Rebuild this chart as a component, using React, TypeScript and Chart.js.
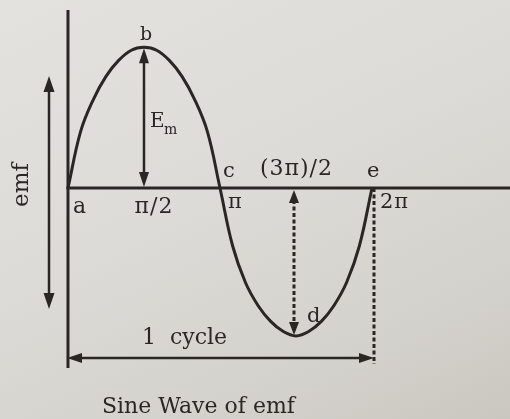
import React, { useEffect, useRef } from "react";
import { Chart, registerables } from "chart.js";

Chart.register(...registerables);

// Phase angle in degrees (0..360 is one full cycle) and the emf at that angle, as a fraction of Em
const phaseDeg = [0, 15, 30, 45, 60, 75, 90, 105, 120, 135, 150, 165, 180, 195, 210, 225, 240, 255, 270, 285, 300, 315, 330, 345, 360];
const emfValues = [0, 0.39, 0.61, 0.77, 0.88, 0.95, 0.97, 0.95, 0.88, 0.77, 0.61, 0.39, 0, -0.4, -0.65, -0.81, -0.92, -0.99, -1.02, -0.99, -0.92, -0.81, -0.65, -0.4, 0];

// Named points on the wave: a (start), b (positive peak), c (zero), d (negative peak), e (end)
const peakPhase = 90;
const zeroPhase = 180;
const troughPhase = 270;
const cyclePhase = 360;

// Tick labels written along the time axis
const tickLabels = ["π/2", "π", "(3π)/2", "2π"];

const INK = "#2b2626";
const SERIF = '"DejaVu Serif", "Liberation Serif", serif';

const valueAt = (deg: number) => emfValues[phaseDeg.indexOf(deg)];

function head(ctx: CanvasRenderingContext2D, x: number, y: number, dir: "up" | "down" | "left" | "right", len: number, half: number) {
  ctx.beginPath();
  if (dir === "up") {
    ctx.moveTo(x, y);
    ctx.lineTo(x - half, y + len);
    ctx.lineTo(x + half, y + len);
  } else if (dir === "down") {
    ctx.moveTo(x, y);
    ctx.lineTo(x - half, y - len);
    ctx.lineTo(x + half, y - len);
  } else if (dir === "left") {
    ctx.moveTo(x, y);
    ctx.lineTo(x + len, y - half);
    ctx.lineTo(x + len, y + half);
  } else {
    ctx.moveTo(x, y);
    ctx.lineTo(x - len, y - half);
    ctx.lineTo(x - len, y + half);
  }
  ctx.closePath();
  ctx.fill();
}

function seg(ctx: CanvasRenderingContext2D, x1: number, y1: number, x2: number, y2: number, width: number, dash: number[] = []) {
  ctx.save();
  ctx.lineWidth = width;
  ctx.setLineDash(dash);
  ctx.beginPath();
  ctx.moveTo(x1, y1);
  ctx.lineTo(x2, y2);
  ctx.stroke();
  ctx.restore();
}

function text(ctx: CanvasRenderingContext2D, s: string, x: number, y: number, size: number, align: CanvasTextAlign = "left") {
  ctx.font = `${size}px ${SERIF}`;
  ctx.textAlign = align;
  ctx.textBaseline = "alphabetic";
  ctx.fillText(s, x, y);
}

// Axes, arrows and lettering of the sine-wave diagram
const diagramPlugin = {
  id: "sineDiagram",
  afterDatasetsDraw(chart: Chart) {
    const { ctx } = chart;
    const xs = chart.scales.x;
    const ys = chart.scales.y;
    const px = (v: number) => xs.getPixelForValue(v);
    const py = (v: number) => ys.getPixelForValue(v);

    const x0 = px(0);
    const y0 = py(0);
    const xb = px(peakPhase);
    const yb = py(valueAt(peakPhase));
    const xc = px(zeroPhase);
    const xd = px(troughPhase);
    const yd = py(valueAt(troughPhase));
    const xe = px(cyclePhase);

    ctx.save();
    ctx.strokeStyle = INK;
    ctx.fillStyle = INK;
    ctx.lineCap = "butt";

    // axes
    seg(ctx, x0, 10, x0, 368, 3);
    seg(ctx, x0 - 1.5, y0, chart.width, y0, 3);

    // Em: from the axis up to the peak b
    seg(ctx, xb, yb + 8, xb, y0 - 8, 2.5);
    head(ctx, xb, yb + 1, "up", 15, 5);
    head(ctx, xb, y0 - 1, "down", 15, 5);

    // dotted arrow from the axis down to d
    seg(ctx, xd - 2, y0 + 12, xd - 2, yd - 12, 3, [4, 2.5]);
    head(ctx, xd - 2, y0 + 2, "up", 13, 5);
    head(ctx, xd - 2, yd - 1, "down", 13, 5);

    // dashed drop line at e
    seg(ctx, xe + 2, y0, xe + 2, 364, 3, [4, 2.5]);

    // one-cycle span
    seg(ctx, x0 + 6, 358, xe - 6, 358, 2.5);
    head(ctx, x0 - 1, 358, "left", 15, 5);
    head(ctx, xe + 2, 358, "right", 15, 5);

    // emf direction arrow on the left
    seg(ctx, 49, 86, 49, 300, 2.5);
    head(ctx, 49, 76, "up", 16, 5.5);
    head(ctx, 49, 309, "down", 16, 5.5);

    // point letters
    text(ctx, "b", xb + 2, yb - 7, 19, "center");
    text(ctx, "E", xb + 6, 127, 20);
    text(ctx, "m", xb + 20, 134, 14);
    text(ctx, "a", x0 + 5, y0 + 25, 22);
    text(ctx, "c", xc + 3, y0 - 11, 21);
    text(ctx, "e", xe - 5, y0 - 11, 21);
    text(ctx, "d", xd + 11, yd - 14, 21);

    // angle labels
    ctx.letterSpacing = "1px";
    text(ctx, tickLabels[0], xb + 10, y0 + 25, 22, "center");
    text(ctx, tickLabels[1], xc + 8, y0 + 20, 21);
    text(ctx, tickLabels[2], xd - 36, y0 - 13, 22);
    text(ctx, tickLabels[3], xe + 8, y0 + 20, 21);
    ctx.letterSpacing = "0px";

    text(ctx, "1  cycle", x0 + 74, 344, 22);
    text(ctx, "Sine Wave of emf", 102, 413, 22);

    ctx.save();
    ctx.translate(28, 185);
    ctx.rotate(-Math.PI / 2);
    text(ctx, "emf", 0, 0, 23, "center");
    ctx.restore();

    ctx.restore();
  },
};

export default function App() {
  const canvasRef = useRef<HTMLCanvasElement | null>(null);

  useEffect(() => {
    const canvas = canvasRef.current;
    if (!canvas) return;
    const chart = new Chart(canvas, {
      type: "line",
      data: {
        datasets: [
          {
            data: phaseDeg.map((d, i) => ({ x: d, y: emfValues[i] })),
            borderColor: INK,
            borderWidth: 3,
            pointRadius: 0,
            fill: false,
            tension: 0.4,
          },
        ],
      },
      options: {
        animation: false,
        responsive: false,
        events: [],
        layout: { padding: 0 },
        plugins: { legend: { display: false }, tooltip: { enabled: false } },
        scales: {
          x: { type: "linear", display: false, min: -80.5, max: 523.4 },
          y: { type: "linear", display: false, min: -1.593, max: 1.2966 },
        },
      },
      plugins: [diagramPlugin],
    });
    return () => chart.destroy();
  }, []);

  return (
    <div
      style={{
        position: "fixed",
        left: 0,
        top: 0,
        width: 510,
        height: 419,
        background: "linear-gradient(155deg, #e3e2df 0%, #dddbd7 45%, #d3d1cb 80%, #c9c7c0 100%)",
      }}
    >
      <canvas ref={canvasRef} width={510} height={419} style={{ display: "block" }} />
    </div>
  );
}
